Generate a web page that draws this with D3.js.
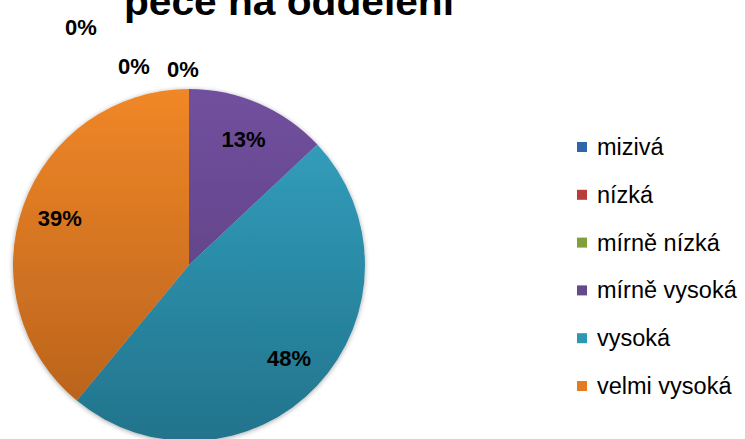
<!DOCTYPE html>
<html>
<head>
<meta charset="utf-8">
<script src="https://cdn.jsdelivr.net/npm/d3@7"></script>
<style>
  body { margin: 0; background: #fff; }
  svg { display: block; font-family: "Liberation Sans", Arial, sans-serif; }
</style>
</head>
<body>
<svg id="chart" width="745" height="439"></svg>
<script>
// Data
var categories = ["mizivá", "nízká", "mírně nízká", "mírně vysoká", "vysoká", "velmi vysoká"];
var values = [0, 0, 0, 13, 48, 39];
var titleText = "péče na oddělení";

// Colours (top of gradient, bottom of gradient, legend swatch)
var colorTop = ["#4a7fc0", "#c8504c", "#9abb58", "#71509f", "#34a4c3", "#f18727"];
var colorBottom = ["#2a5790", "#98302d", "#6a8a2c", "#573b77", "#22738b", "#b35f1c"];
var colorKey = ["#2f65aa", "#b83c38", "#7fa03b", "#634a8a", "#2e98b4", "#e47b22"];

var svg = d3.select("#chart");
var cx = 189, cy = 265, r = 176;

var defs = svg.append("defs");
categories.forEach(function (c, i) {
    var g = defs.append("linearGradient")
        .attr("id", "grad" + i)
        .attr("gradientUnits", "userSpaceOnUse")
        .attr("x1", 0).attr("y1", -r)
        .attr("x2", 0).attr("y2", r);
    g.append("stop").attr("offset", "0%").attr("stop-color", colorTop[i]);
    g.append("stop").attr("offset", "100%").attr("stop-color", colorBottom[i]);
});

// soft shadow
var f = defs.append("filter").attr("id", "shadow")
    .attr("x", "-10%").attr("y", "-10%").attr("width", "120%").attr("height", "120%");
f.append("feGaussianBlur").attr("in", "SourceAlpha").attr("stdDeviation", 2.5).attr("result", "b");
f.append("feOffset").attr("in", "b").attr("dx", 0).attr("dy", 1).attr("result", "o");
f.append("feComponentTransfer").attr("in", "o").attr("result", "s")
    .append("feFuncA").attr("type", "linear").attr("slope", 0.35);
var m = f.append("feMerge");
m.append("feMergeNode").attr("in", "s");
m.append("feMergeNode").attr("in", "SourceGraphic");

// Title (its upper part runs off the top edge, as in the reference)
svg.append("text")
    .attr("x", 289).attr("y", 15)
    .attr("text-anchor", "middle")
    .attr("font-weight", "bold")
    .attr("font-size", 38)
    .attr("textLength", 330)
    .attr("lengthAdjust", "spacingAndGlyphs")
    .text(titleText);

// Pie
var pie = d3.pie().sort(null).value(function (d) { return d; });
var arcs = pie(values);
var arc = d3.arc().innerRadius(0).outerRadius(r);
var labelArc = d3.arc().innerRadius(r * 0.78).outerRadius(r * 0.78);

var g = svg.append("g").attr("transform", "translate(" + cx + "," + cy + ")");
g.append("g").attr("filter", "url(#shadow)")
    .selectAll("path")
    .data(arcs)
    .enter().append("path")
    .attr("d", arc)
    .attr("fill", function (d, i) { return "url(#grad" + i + ")"; });

// Labels (zero slices get stacked outside above the pie)
var zeroIndex = 0;
var zeroOffsets = [[-108, -238], [-55, -199], [-6, -196]];
var total = d3.sum(values);
arcs.forEach(function (d, i) {
    var x, y;
    if (d.value === 0) {
        var o = zeroOffsets[zeroIndex++];
        x = o[0]; y = o[1];
    } else {
        var p = labelArc.centroid(d);
        x = p[0]; y = p[1];
    }
    g.append("text")
        .attr("x", x).attr("y", y)
        .attr("text-anchor", "middle")
        .attr("dominant-baseline", "central")
        .attr("font-weight", "bold")
        .attr("font-size", 22)
        .attr("fill", "#000")
        .text(Math.round(d.value / total * 100) + "%");
});

// Legend
var ly = d3.scalePoint().domain(categories).range([147, 386]);
var legend = svg.append("g");
categories.forEach(function (c, i) {
    var y = ly(c);
    legend.append("rect")
        .attr("x", 577).attr("y", y - 5)
        .attr("width", 10).attr("height", 10)
        .attr("fill", colorKey[i]);
    legend.append("text")
        .attr("x", 597).attr("y", y)
        .attr("dominant-baseline", "central")
        .attr("font-size", 23.5)
        .attr("fill", "#000")
        .text(c);
});
</script>
</body>
</html>
